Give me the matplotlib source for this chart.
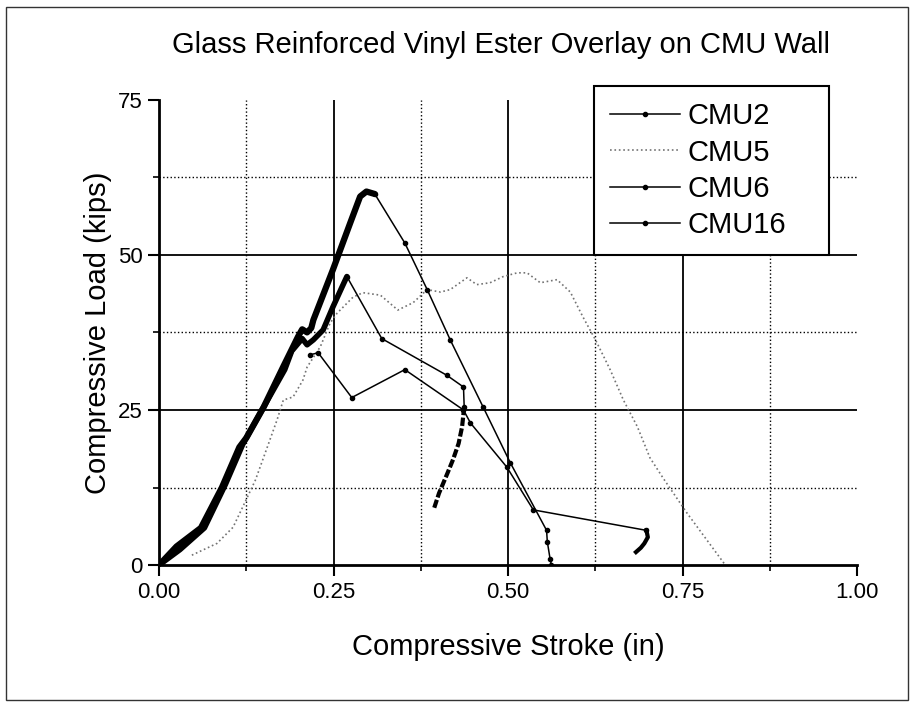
import matplotlib.pyplot as plt
from matplotlib.patches import Rectangle
from matplotlib.ticker import MultipleLocator, FormatStrFormatter

plt.rcParams['font.family'] = ['Liberation Sans', 'DejaVu Sans']

# CMU16 - loading (dense, drawn thick) and post-peak (sparse points)
x16_rise = [0.0, 0.025, 0.06, 0.09, 0.115, 0.125, 0.15, 0.178, 0.199, 0.205, 0.212, 0.218,
            0.221, 0.249, 0.274, 0.288, 0.297, 0.309]
y16_rise = [0.0, 3.0, 6.0, 12.5, 19.0, 20.5, 25.5, 32.0, 36.8, 38.0, 37.5, 38.2,
            39.5, 47.6, 55.2, 59.4, 60.2, 59.8]
x16_fall = [0.309, 0.352, 0.384, 0.417, 0.464, 0.503, 0.555, 0.556, 0.560, 0.562]
y16_fall = [59.8, 51.9, 44.4, 36.3, 25.5, 16.5, 5.6, 3.8, 1.0, 0.0]

# CMU6
x6_rise = [0.0, 0.03, 0.065, 0.095, 0.12, 0.15, 0.18, 0.19, 0.205, 0.212, 0.221, 0.235,
           0.249, 0.262, 0.269]
y6_rise = [0.0, 2.5, 6.0, 13.0, 19.5, 25.5, 31.5, 34.5, 36.5, 35.5, 36.3, 37.9,
           41.6, 44.8, 46.5]
x6_fall = [0.269, 0.319, 0.412, 0.436, 0.437]
y6_fall = [46.5, 36.5, 30.6, 28.7, 25.5]
x6_tail = [0.437, 0.434, 0.429, 0.421, 0.413, 0.401, 0.394]
y6_tail = [25.5, 22.3, 19.6, 17.0, 14.8, 11.6, 9.2]

# CMU2
x2 = [0.216, 0.228, 0.276, 0.352, 0.436, 0.446, 0.498, 0.536, 0.698]
y2 = [33.9, 34.2, 27.0, 31.5, 25.0, 22.9, 15.8, 8.9, 5.6]
x2_tail = [0.698, 0.700, 0.695, 0.690, 0.683]
y2_tail = [5.6, 4.5, 3.5, 2.8, 2.1]

# CMU5
x5 = [0.047, 0.083, 0.106, 0.12, 0.138, 0.155, 0.169, 0.178, 0.192, 0.206, 0.212, 0.231,
      0.245, 0.255, 0.278, 0.292, 0.317, 0.342, 0.364, 0.384, 0.403, 0.417, 0.441, 0.455,
      0.474, 0.493, 0.513, 0.527, 0.546, 0.570, 0.589, 0.607, 0.625, 0.646, 0.665, 0.685,
      0.703, 0.722, 0.756, 0.792, 0.811]
y5 = [1.6, 3.5, 6.1, 9.4, 13.7, 19.0, 23.4, 26.6, 27.1, 29.8, 31.9, 35.2,
      39.0, 40.6, 43.2, 43.9, 43.5, 41.1, 42.3, 44.4, 44.0, 44.4, 46.3, 45.2,
      45.5, 46.5, 47.1, 47.1, 45.5, 46.0, 44.0, 40.0, 36.3, 31.5, 26.6, 22.3,
      17.3, 14.0, 8.4, 2.9, 0.0]

fig = plt.figure(figsize=(9.14, 7.02), dpi=100)
ax = fig.add_axes([0.174, 0.195, 0.764, 0.663])

# grid: solid at major, dotted at minor
for v in [0.25, 0.5, 0.75]:
    ax.axvline(v, color='k', lw=1.3, zorder=0)
for v in [0.125, 0.375, 0.625, 0.875]:
    ax.axvline(v, color='k', lw=1.0, ls=':', zorder=0)
for v in [25, 50]:
    ax.axhline(v, color='k', lw=1.3, zorder=0)
for v in [12.5, 37.5, 62.5]:
    ax.axhline(v, color='k', lw=1.0, ls=':', zorder=0)

ax.plot(x5, y5, color='0.45', lw=1.2, ls=':', label='CMU5')

ax.plot(x2, y2, color='k', lw=1.1, marker='o', ms=3, label='CMU2')
ax.plot(x2_tail, y2_tail, color='k', lw=3)

ax.plot(x6_rise, y6_rise, color='k', lw=4, solid_capstyle='round')
ax.plot(x6_fall, y6_fall, color='k', lw=1.1, marker='o', ms=3, label='CMU6')
ax.plot(x6_tail, y6_tail, color='k', lw=3, ls=(0, (2, 0.6)))

ax.plot(x16_rise, y16_rise, color='k', lw=4.5, solid_capstyle='round')
ax.plot(x16_fall, y16_fall, color='k', lw=1.1, marker='o', ms=3, label='CMU16')

ax.set_xlim(0, 1.0)
ax.set_ylim(0, 75)
ax.xaxis.set_major_locator(MultipleLocator(0.25))
ax.xaxis.set_minor_locator(MultipleLocator(0.125))
ax.yaxis.set_major_locator(MultipleLocator(25))
ax.yaxis.set_minor_locator(MultipleLocator(12.5))
ax.xaxis.set_major_formatter(FormatStrFormatter('%.2f'))
ax.tick_params(which='major', length=8, width=1.5, direction='out', labelsize=16, pad=4)
ax.tick_params(which='minor', length=4, width=1.2, direction='out')

for s in ['top', 'right']:
    ax.spines[s].set_visible(False)
for s in ['left', 'bottom']:
    ax.spines[s].set_linewidth(2)

ax.set_xlabel('Compressive Stroke (in)', fontsize=21, labelpad=22)
ax.set_ylabel('Compressive Load (kips)', fontsize=21, labelpad=4)
fig.text(0.548, 0.936, 'Glass Reinforced Vinyl Ester Overlay on CMU Wall',
         fontsize=21, ha='center', va='center')

handles, labels = ax.get_legend_handles_labels()
order = ['CMU2', 'CMU5', 'CMU6', 'CMU16']
hmap = dict(zip(labels, handles))
leg = ax.legend([hmap[k] for k in order], order, loc='upper left',
                bbox_to_anchor=(594 / 914, 1 - 257 / 702, 235 / 914, 171 / 702),
                bbox_transform=fig.transFigure, mode='expand',
                fontsize=21, frameon=True, fancybox=False, edgecolor='k', framealpha=1,
                handlelength=2.4, handletextpad=0.25, borderpad=0.55, labelspacing=0.29,
                borderaxespad=0, numpoints=1)
leg.get_frame().set_linewidth(1.5)

fig.add_artist(Rectangle((0.0066, 0.003), 0.987, 0.987, transform=fig.transFigure,
                         fill=False, lw=1.0, edgecolor='0.2'))

fig.savefig('out.png', dpi=100)
